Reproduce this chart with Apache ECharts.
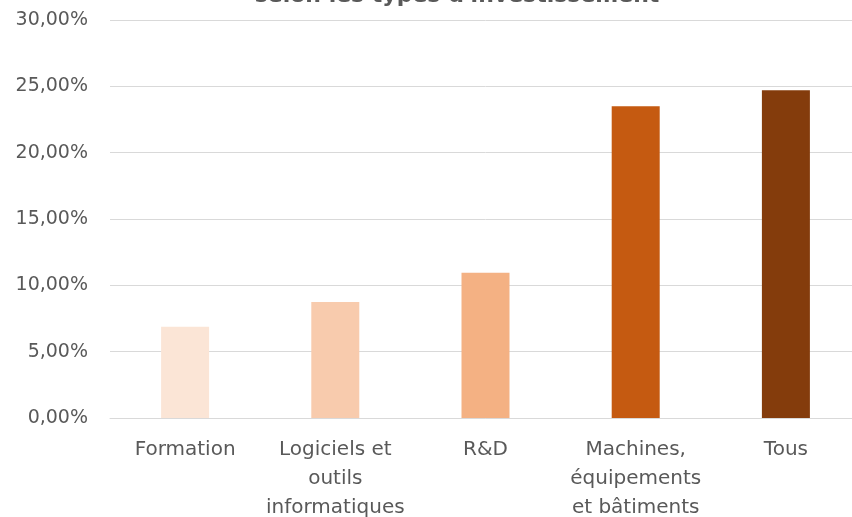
<!DOCTYPE html>
<html>
<head>
<meta charset="utf-8">
<script src="https://cdn.jsdelivr.net/npm/echarts@6/dist/echarts.min.js"></script>
<style>
  html, body { margin: 0; padding: 0; background: #ffffff; overflow: hidden; }
  #chart { width: 852px; height: 517px; overflow: hidden; position: relative; }
</style>
</head>
<body>
<div id="chart"></div>
<script>
// Investment categories (axis labels, line breaks as printed)
const categories = [
  'Formation',
  'Logiciels et\noutils\ninformatiques',
  'R&D',
  'Machines,\néquipements\net bâtiments',
  'Tous'
];
// Share per investment type, in percent
const values = [6.88, 8.75, 10.95, 23.5, 24.7];
// Fill colour for each bar
const barColors = ['#FBE5D6', '#F8CBAD', '#F4B183', '#C55A11', '#843C0C'];
// Value axis ticks
const yTicks = { min: 0, max: 30, interval: 5 };
const titleText = "selon les types d'investissement";

const FONT = 'DejaVu Sans';
// The plot runs slightly past the right edge of the frame, so the canvas is a bit wider than the box
const chart = echarts.init(document.getElementById('chart'), null, { width: 861, height: 517 });
chart.setOption({
  animation: false,
  title: {
    text: titleText,
    left: 452,
    top: -20,
    textAlign: 'center',
    textStyle: { fontFamily: FONT, fontSize: 22, fontWeight: 'bold', color: '#595959' }
  },
  grid: {
    left: 110, top: 20, right: 0, height: 398,
    containLabel: false,
    outerBoundsMode: 'none'
  },
  xAxis: {
    type: 'category',
    data: categories,
    axisLine: { show: true, lineStyle: { color: '#d9d9d9', width: 1 } },
    axisTick: { show: false },
    axisLabel: {
      interval: 0,
      margin: 17,
      color: '#595959',
      fontFamily: FONT,
      fontSize: 20,
      lineHeight: 29,
      align: 'center'
    }
  },
  yAxis: {
    type: 'value',
    min: yTicks.min,
    max: yTicks.max,
    interval: yTicks.interval,
    axisLine: { show: false },
    axisTick: { show: false },
    splitLine: { lineStyle: { color: '#d9d9d9', width: 1 } },
    axisLabel: {
      margin: 22,
      color: '#595959',
      fontFamily: FONT,
      fontSize: 19,
      formatter: v => v.toFixed(2).replace('.', ',') + '%'
    }
  },
  series: [{
    type: 'bar',
    data: values.map((v, i) => ({ value: v, itemStyle: { color: barColors[i] } })),
    barWidth: 48
  }]
});
</script>
</body>
</html>
